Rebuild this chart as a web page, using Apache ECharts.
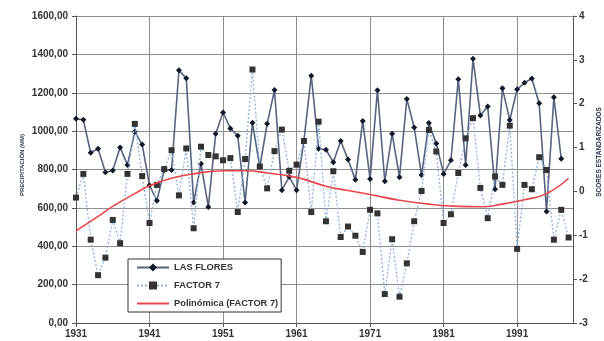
<!DOCTYPE html>
<html>
<head>
<meta charset="utf-8">
<script src="https://cdn.jsdelivr.net/npm/echarts@6/dist/echarts.min.js"></script>
<style>
html,body{margin:0;padding:0;background:#fff;}
#c{width:604px;height:341px;}
</style>
</head>
<body>
<div id="c"></div>
<script>
// ---- data ----
const startYear = 1931;
const years = Array.from({length: 68}, (_, i) => startYear + i); // 1931..1998
const xTickYears = [1931, 1941, 1951, 1961, 1971, 1981, 1991];

const lasFlores = [
  1064, 1059, 887, 908, 786, 795, 915, 824, 997, 930,
  718, 637, 798, 797, 1317, 1275, 628, 830, 605, 986,
  1097, 1014, 976, 628, 1043, 813, 1038, 1214, 692, 762,
  692, 950, 1289, 908, 903, 838, 949, 852, 746, 1053,
  750, 1213, 739, 986, 760, 1168, 1019, 771, 1042, 936,
  777, 848, 1271, 823, 1377, 1082, 1128, 697, 1223, 1058,
  1218, 1252, 1274, 1145, 581, 1177, 856
];

const factor7 = [
  -0.14, 0.40, -1.10, -1.91, -1.51, -0.65, -1.18, 0.40, 1.54, 0.35,
  -0.72, 0.15, 0.51, 0.94, -0.09, 0.98, -0.84, 1.02, 0.83, 0.80,
  0.71, 0.76, -0.47, 0.74, 2.78, 0.57, 0.07, 0.92, 1.41, 0.47,
  0.61, 1.15, -0.47, 1.59, -0.68, 0.46, -1.04, -0.80, -1.01, -1.38,
  -0.42, -0.50, -2.34, -1.09, -2.40, -1.64, -0.68, 0.01, 1.40, 0.91,
  -0.72, -0.52, 0.42, 1.21, 1.67, 0.08, -0.61, 0.34, 0.15, 1.50,
  -1.31, 0.15, 0.05, 0.78, 0.49, -1.10, -0.42, -1.05
];

// polynomial trend line
const trendYears  = [1931, 1934, 1936, 1939, 1941, 1944, 1947, 1951, 1954, 1957, 1961, 1965, 1968, 1971, 1975, 1979, 1983, 1986, 1989, 1992, 1995, 1998];
const trendValues = [-0.90, -0.57, -0.34, -0.05, 0.13, 0.30, 0.40, 0.47, 0.47, 0.42, 0.32, 0.12, 0.02, -0.07, -0.20, -0.29, -0.34, -0.35, -0.29, -0.19, -0.05, 0.30];

const seriesNames = ['LAS FLORES', 'FACTOR 7', 'Polinómica (FACTOR 7)'];
const leftAxisName = 'PRECIPITACIÓN (MM)';
const rightAxisName = 'SCORES ESTANDARIZADOS';

// ---- chart ----
const toX = y => y - startYear;
const lfData = lasFlores.map((v, i) => [toX(years[i]), v]);
const f7Data = factor7.map((v, i) => [toX(years[i]), v]);
const trData = trendValues.map((v, i) => [toX(trendYears[i]), v]);

const chart = echarts.init(document.getElementById('c'), null, {renderer: 'canvas'});
const font = 'Liberation Sans, Arial, sans-serif';
const gridColor = '#8e8e8e';

chart.setOption({
  backgroundColor: '#ffffff',
  animation: false,
  textStyle: {fontFamily: font},
  grid: {left: 76, right: 31, top: 16, bottom: 18, containLabel: false},
  legend: {
    orient: 'vertical',
    left: 128, top: 259,
    padding: [4, 3, 4, 8],
    itemGap: 9,
    itemWidth: 32,
    itemHeight: 10,
    borderColor: '#333',
    borderWidth: 1,
    backgroundColor: '#fff',
    borderRadius: 0,
    textStyle: {fontSize: 9.3, fontWeight: 'bold', color: '#333', fontFamily: font},
    data: [
      {name: seriesNames[0]},
      {name: seriesNames[1]},
      {name: seriesNames[2], itemStyle: {opacity: 0}}
    ]
  },
  xAxis: {
    type: 'value',
    min: 0, max: 67.6, interval: 10,
    axisLine: {show: true, lineStyle: {color: '#555', width: 1}},
    axisTick: {show: true, length: 4, lineStyle: {color: '#555'}},
    axisLabel: {
      color: '#333', fontSize: 10, fontWeight: 'bold', margin: 6,
      showMaxLabel: false,
      formatter: v => {
        const y = startYear + v;
        return xTickYears.indexOf(y) >= 0 ? String(y) : '';
      }
    },
    splitLine: {show: true, lineStyle: {color: gridColor, width: 1}}
  },
  yAxis: [
    {
      type: 'value', min: 0, max: 1600, interval: 200,
      axisLine: {show: true, lineStyle: {color: '#555', width: 1}},
      axisTick: {show: true, length: 4, lineStyle: {color: '#555'}},
      axisLabel: {color: '#333', fontSize: 10, fontWeight: 'bold', margin: 8,
        formatter: v => v.toFixed(2).replace('.', ',')},
      splitLine: {show: true, lineStyle: {color: gridColor, width: 1}}
    },
    {
      type: 'value', min: -3, max: 4, interval: 1, position: 'right',
      axisLine: {show: true, lineStyle: {color: '#555', width: 1}},
      axisTick: {show: true, length: 4, lineStyle: {color: '#555'}},
      axisLabel: {color: '#333', fontSize: 10, fontWeight: 'bold', margin: 6},
      splitLine: {show: false}
    }
  ],
  graphic: [
    {type: 'text', x: 22, y: 165, rotation: Math.PI / 2,
      style: {text: leftAxisName, fill: '#2a3550', font: 'bold 6px ' + font, textAlign: 'center', textVerticalAlign: 'middle'}},
    {type: 'text', x: 599, y: 152, rotation: Math.PI / 2,
      style: {text: rightAxisName, fill: '#2a3550', font: 'bold 6.5px ' + font, textAlign: 'center', textVerticalAlign: 'middle'}}
  ],
  series: [
    {
      name: seriesNames[0], type: 'line', yAxisIndex: 0, data: lfData,
      symbol: 'diamond', symbolSize: 6,
      lineStyle: {color: '#56647f', width: 1.6},
      itemStyle: {color: '#111827'},
      z: 3
    },
    {
      name: seriesNames[1], type: 'line', yAxisIndex: 1, data: f7Data,
      symbol: 'rect', symbolSize: 6,
      lineStyle: {color: '#8fb2de', width: 1.3, type: [2, 2]},
      itemStyle: {color: '#333333'},
      z: 4
    },
    {
      name: seriesNames[2], type: 'line', yAxisIndex: 1, data: trData,
      smooth: true, showSymbol: false, symbol: 'none',
      lineStyle: {color: '#e8474c', width: 1.6},
      itemStyle: {color: '#e8474c'},
      z: 5
    }
  ]
});
</script>
</body>
</html>
